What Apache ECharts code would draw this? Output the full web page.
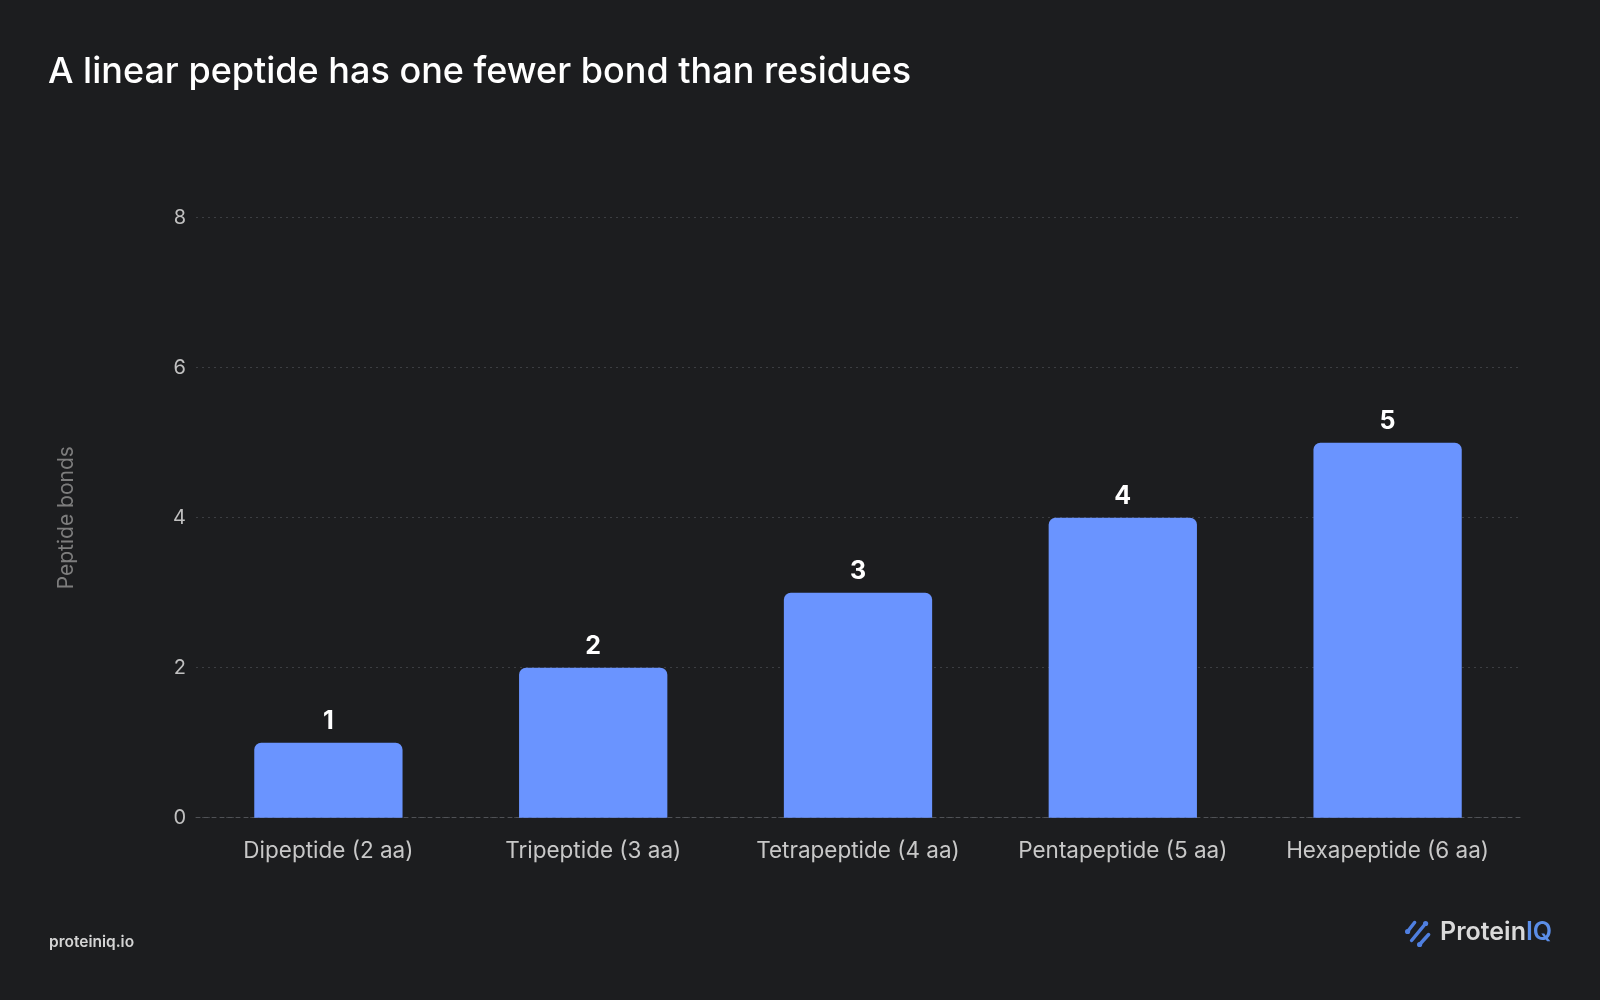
<!DOCTYPE html>
<html>
<head>
<meta charset="utf-8">
<title>Peptide bonds</title>
<script src="https://cdn.jsdelivr.net/npm/echarts@6/dist/echarts.min.js"></script>
<style>
	html, body { margin: 0; padding: 0; background: #1c1d1f; }
	#bonds_chart { width: 1600px; height: 1000px; }
</style>
</head>
<body>
<div id="bonds_chart"></div>
<script>
// 数据
var categories = ['Dipeptide (2 aa)', 'Tripeptide (3 aa)', 'Tetrapeptide (4 aa)', 'Pentapeptide (5 aa)', 'Hexapeptide (6 aa)'];
var bondCounts = [1, 2, 3, 4, 5];
var yTicks = [0, 2, 4, 6, 8];

var FONT = 'Inter, "Noto Sans", sans-serif';

/**
 * 柱状图
 */
function load_bonds_chart(){
	var chart = echarts.init(document.getElementById('bonds_chart'));

	var option = {
		backgroundColor: '#1c1d1f',
		textStyle: { fontFamily: FONT },
		title: {
			text: 'A linear peptide has one fewer bond than residues',
			left: 43,
			top: 49,
			textStyle: { color: '#ffffff', fontSize: 36, fontWeight: 500, fontFamily: FONT }
		},
		grid: { left: 196, right: 80, top: 217.7, bottom: 182.3 },
		xAxis: {
			type: 'category',
			data: categories,
			axisTick: { show: false },
			axisLine: { show: true, lineStyle: { color: '#505256', type: [4, 4], width: 1 } },
			axisLabel: { color: '#c8c8c8', fontSize: 22.5, margin: 22, interval: 0, fontFamily: FONT }
		},
		yAxis: {
			type: 'value',
			min: yTicks[0],
			max: yTicks[yTicks.length - 1],
			interval: yTicks[1] - yTicks[0],
			name: 'Peptide bonds',
			nameLocation: 'middle',
			nameGap: 119,
			nameTextStyle: { color: '#7d7d7d', fontSize: 21, fontFamily: FONT },
			axisLine: { show: false },
			axisTick: { show: false },
			axisLabel: { color: '#c0c0c0', fontSize: 20, margin: 10, fontFamily: FONT },
			splitLine: { lineStyle: { color: '#3c3e42', type: [2, 4], width: 1 } }
		},
		series: [
			{
				name: 'Peptide bonds',
				type: 'bar',
				data: bondCounts,
				barWidth: '56%',
				itemStyle: { color: '#6a94ff', borderRadius: [7, 7, 0, 0] },
				label: {
					show: true,
					position: 'top',
					distance: 9,
					color: '#ffffff',
					fontSize: 25,
					fontWeight: 'bold',
					fontFamily: FONT
				}
			}
		],
		graphic: [
			// 左下角网址
			{
				type: 'text',
				left: 49,
				top: 934,
				style: { text: 'proteiniq.io', fill: '#d4d4d4', font: '600 15.5px ' + FONT }
			},
			// 右下角 logo 图标
			{
				type: 'group',
				left: 1405,
				top: 920,
				children: [
					{ type: 'line', shape: { x1: 3, y1: 12, x2: 10, y2: 3 }, style: { stroke: '#4f7fe0', lineWidth: 3.5, lineCap: 'round' } },
					{ type: 'line', shape: { x1: 7, y1: 21, x2: 21, y2: 4 }, style: { stroke: '#4f7fe0', lineWidth: 3.5, lineCap: 'round' } },
					{ type: 'line', shape: { x1: 15, y1: 25, x2: 24, y2: 15 }, style: { stroke: '#4f7fe0', lineWidth: 3.5, lineCap: 'round' } },
					{ type: 'circle', shape: { cx: 3, cy: 12, r: 2.6 }, style: { fill: '#4f7fe0' } },
					{ type: 'circle', shape: { cx: 21, cy: 4, r: 2.6 }, style: { fill: '#4f7fe0' } },
					{ type: 'circle', shape: { cx: 15, cy: 25, r: 2.6 }, style: { fill: '#4f7fe0' } }
				]
			},
			{
				type: 'text',
				left: 1440,
				top: 920,
				style: {
					text: '{a|Protein}{b|IQ}',
					rich: {
						a: { fill: '#dadada', font: '600 25px ' + FONT },
						b: { fill: '#5b8ee8', font: '600 25px ' + FONT }
					}
				}
			}
		]
	};

	chart.setOption(option);
}

load_bonds_chart();
</script>
</body>
</html>
